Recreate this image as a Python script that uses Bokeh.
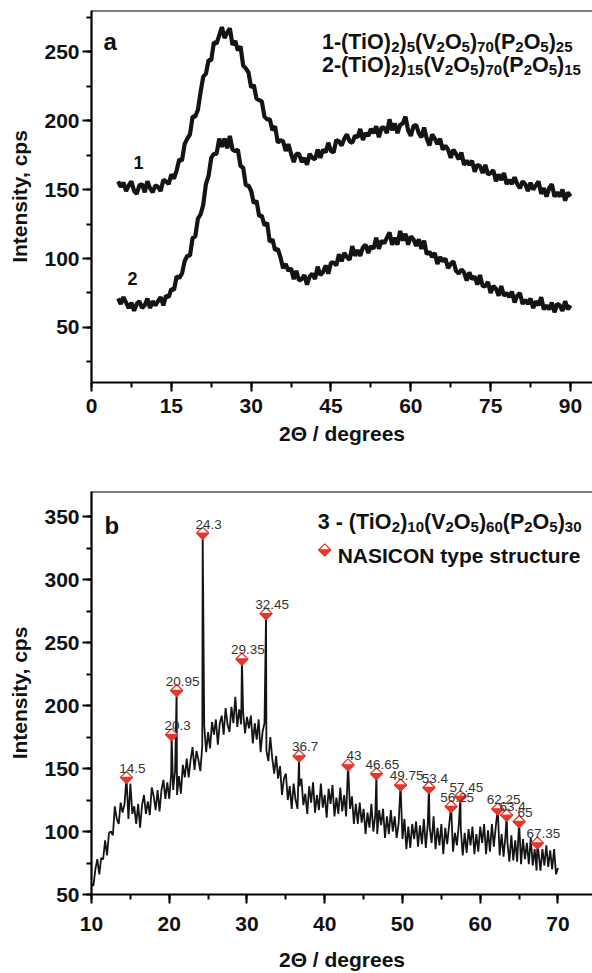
from bokeh.plotting import figure
from bokeh.models import Range1d, SingleIntervalTicker, Label, Span
from bokeh.layouts import column
from bokeh.embed import file_html
from bokeh.resources import INLINE
from bokeh.core.properties import value

FONT = "Liberation Sans"
RED = "#e5372b"
INK = "#141414"

# ---------------- panel a data (2theta from 5 to 90, step 0.5) ----------------
A_X0, A_STEP = 5.0, 0.5
curve1 = [156, 152, 155, 149, 153, 156, 149, 147, 153, 154, 148, 156, 151, 148, 153, 152, 149, 157, 156, 154,
          161, 158, 164, 172, 171, 183, 187, 190, 203, 203, 208, 221, 232, 234, 244, 244, 257, 256, 262, 268,
          260, 264, 267, 255, 258, 251, 254, 240, 238, 235, 224, 226, 216, 215, 214, 203, 201, 201, 193, 196,
          184, 186, 185, 178, 183, 176, 170, 176, 176, 170, 173, 168, 176, 173, 172, 179, 173, 179, 177, 184,
          178, 177, 186, 185, 182, 187, 190, 185, 184, 189, 188, 194, 186, 191, 189, 194, 191, 196, 188, 195,
          195, 191, 201, 193, 198, 191, 197, 198, 203, 193, 189, 196, 197, 191, 188, 195, 187, 182, 190, 187,
          183, 187, 179, 182, 179, 173, 179, 176, 172, 177, 168, 171, 168, 171, 163, 168, 167, 162, 168, 161,
          162, 164, 156, 161, 157, 162, 154, 157, 154, 159, 154, 151, 156, 154, 149, 155, 150, 153, 156, 147,
          151, 145, 151, 154, 145, 148, 145, 150, 142, 148, 145]
curve2 = [71, 67, 72, 68, 64, 68, 62, 67, 69, 64, 66, 71, 64, 69, 66, 69, 72, 66, 73, 72,
          78, 77, 87, 86, 89, 98, 102, 102, 115, 116, 129, 132, 139, 154, 160, 173, 176, 176, 187, 181,
          187, 180, 189, 179, 178, 179, 167, 166, 153, 153, 149, 140, 142, 131, 131, 124, 126, 112, 114, 106,
          107, 101, 93, 96, 91, 93, 85, 91, 84, 85, 88, 81, 87, 89, 85, 94, 88, 90, 95, 89,
          97, 97, 95, 103, 98, 104, 101, 99, 109, 102, 106, 102, 108, 110, 104, 109, 107, 115, 107, 113,
          111, 115, 119, 110, 115, 110, 120, 113, 118, 110, 116, 114, 109, 114, 107, 113, 103, 105, 101, 104,
          96, 101, 98, 100, 93, 96, 98, 91, 89, 92, 90, 84, 90, 85, 87, 81, 88, 80, 80, 83,
          75, 80, 78, 73, 80, 73, 75, 72, 76, 68, 73, 75, 67, 70, 67, 71, 64, 69, 66, 72,
          63, 66, 63, 68, 61, 67, 66, 62, 69, 63, 66]
a_x = [A_X0 + i * A_STEP for i in range(len(curve1))]

# formulas as (text, is_subscript) segments
a_formula1 = [("1-(TiO)", 0), ("2", 1), (")", 0), ("5", 1), ("(V", 0), ("2", 1), ("O", 0), ("5", 1),
              (")", 0), ("70", 1), ("(P", 0), ("2", 1), ("O", 0), ("5", 1), (")", 0), ("25", 1)]
a_formula2 = [("2-(TiO)", 0), ("2", 1), (")", 0), ("15", 1), ("(V", 0), ("2", 1), ("O", 0), ("5", 1),
              (")", 0), ("70", 1), ("(P", 0), ("2", 1), ("O", 0), ("5", 1), (")", 0), ("15", 1)]

# ---------------- panel b data (2theta from 10 to 70, step 0.25) ----------------
B_X0, B_STEP = 10.0, 0.25
curve3 = [58, 57, 70, 78, 66, 79, 78, 93, 81, 99, 100, 97, 120, 110, 106, 123, 115, 122, 128, 110,
          138, 114, 120, 106, 122, 103, 121, 129, 114, 124, 113, 135, 128, 117, 133, 116, 133, 141, 126, 139,
          126, 146, 133, 148, 129, 144, 130, 153, 143, 158, 143, 157, 167, 149, 164, 157, 148, 168, 184, 163,
          179, 166, 187, 177, 189, 169, 186, 192, 177, 198, 185, 179, 199, 186, 207, 183, 197, 185, 195, 178,
          191, 182, 192, 170, 186, 173, 189, 163, 179, 186, 164, 156, 175, 158, 146, 160, 142, 152, 129, 142,
          146, 125, 136, 118, 138, 125, 118, 136, 142, 121, 130, 114, 136, 123, 139, 115, 129, 117, 138, 119,
          129, 111, 134, 122, 137, 112, 127, 114, 135, 116, 129, 112, 140, 118, 128, 106, 122, 106, 123, 107,
          118, 98, 115, 103, 122, 100, 113, 98, 117, 105, 118, 95, 112, 98, 117, 100, 112, 95, 106, 120,
          94, 110, 86, 104, 87, 106, 94, 108, 88, 105, 90, 110, 87, 106, 103, 91, 112, 86, 103, 89,
          106, 82, 103, 90, 105, 110, 84, 99, 89, 106, 102, 81, 99, 83, 102, 89, 104, 82, 98, 84,
          104, 91, 106, 82, 101, 84, 106, 88, 104, 110, 81, 98, 80, 97, 91, 76, 97, 77, 93, 76,
          95, 74, 94, 78, 91, 74, 95, 73, 86, 69, 83, 69, 86, 73, 89, 72, 85, 70, 86, 66,
          71]
b_x = [round(B_X0 + i * B_STEP, 2) for i in range(len(curve3))]

peak_x = [14.5, 20.3, 20.95, 24.3, 29.35, 32.45, 36.7, 43, 46.65, 49.75, 53.4, 56.25, 57.45, 62.25, 63.4, 65, 67.35]
peak_y = [143, 177, 212, 337, 237, 273, 160, 153, 146, 137, 135, 120, 128, 118, 113, 108, 91]
peak_lbl = ["14.5", "20.3", "20.95", "24.3", "29.35", "32.45", "36.7", "43", "46.65", "49.75",
            "53.4", "56.25", "57.45", "62.25", "63.4", "65", "67.35"]
b_formula = [("3 - (TiO", 0), ("2", 1), (")", 0), ("10", 1), ("(V", 0), ("2", 1), ("O", 0), ("5", 1),
             (")", 0), ("60", 1), ("(P", 0), ("2", 1), ("O", 0), ("5", 1), (")", 0), ("30", 1)]
b_legend = "NASICON type structure"

# ---------------- layout geometry (page has no margin: figure starts at 0,0) ----------------
W = 592
LEFT = 91
FW = W - LEFT
HA, A_TOP, A_FH = 470, 10, 372
HB, B_TOP, B_FH = 503, 21, 408

A_XR = (0, 94.14)
A_YR = (10, 280)
B_XR = (10, 74.44)
B_YR = (50, 370)

# advance widths of Liberation Sans Bold (em units) for the characters used in formulas
ADV = {"0": .556, "1": .556, "2": .556, "3": .556, "5": .556, "6": .556, "7": .556,
       "-": .333, "(": .333, ")": .333, "T": .611, "i": .278, "O": .778, "V": .667, "P": .667, " ": .278}


def style(p, xint, yint, x_std, x_lbl_std):
    p.outline_line_color = None
    p.xgrid.grid_line_color = None
    p.ygrid.grid_line_color = None
    p.xaxis.ticker = SingleIntervalTicker(interval=xint, num_minor_ticks=2)
    p.yaxis.ticker = SingleIntervalTicker(interval=yint, num_minor_ticks=2)
    for ax in (p.xaxis[0], p.yaxis[0]):
        ax.axis_line_width = 2.2
        ax.axis_line_color = "black"
        ax.major_tick_line_width = 2
        ax.minor_tick_line_width = 2
        ax.major_tick_line_color = "black"
        ax.minor_tick_line_color = "black"
        ax.major_tick_in = 0
        ax.minor_tick_in = 0
        ax.major_tick_out = 9
        ax.minor_tick_out = 5
        ax.major_label_text_font = FONT
        ax.major_label_text_font_style = "bold"
        ax.major_label_text_font_size = "21px"
        ax.major_label_text_color = "#111111"
        ax.axis_label_text_font = FONT
        ax.axis_label_text_font_style = "bold"
        ax.axis_label_text_font_size = "21px"
        ax.axis_label_text_color = "#111111"
    p.xaxis.major_label_standoff = x_std
    p.xaxis.axis_label_standoff = x_lbl_std
    p.yaxis.major_label_standoff = 3
    p.yaxis.axis_label_standoff = 10
    p.xaxis.axis_label = "2\u0398 / degrees"
    p.yaxis.axis_label = "Intensity, cps"


def diamonds(p, xs, ys, xr, yr, fh, r=6):
    sx = FW / (xr[1] - xr[0])
    sy = fh / (yr[1] - yr[0])
    dx, dy = r / sx, r / sy
    fx = [[x - dx, x, x + dx, x] for x in xs]
    fy = [[y, y + dy, y, y - dy] for y in ys]
    lx = [[x - dx, x + dx, x] for x in xs]
    ly = [[y, y, y - dy] for y in ys]
    p.patches(fx, fy, fill_color="white", line_color=RED, line_width=1.3)
    p.patches(lx, ly, fill_color=RED, line_color=RED, line_width=1.3)


def lab(p, x, y, t, size, bold=True):
    p.add_layout(Label(x=x, y=y, text=t, text_font=FONT, text_font_size=size,
                       text_font_style="bold" if bold else "normal", text_color="#111111",
                       text_align="left", text_baseline="alphabetic"))


def formula(p, x0, y0, segs, xr, yr, fh, size, sub, drop=5):
    sx = FW / (xr[1] - xr[0])
    sy = fh / (yr[1] - yr[0])
    cur = 0.0
    for txt, is_sub in segs:
        fs = sub if is_sub else size
        yy = y0 - drop / sy if is_sub else y0
        lab(p, x0 + cur / sx, yy, txt, "%gpx" % fs)
        cur += sum(ADV[c] for c in txt) * fs


# ---------------- panel a ----------------
pa = figure(width=W, height=HA, output_backend="svg", toolbar_location=None,
            x_range=Range1d(*A_XR), y_range=Range1d(*A_YR),
            min_border_left=LEFT, min_border_right=0, min_border_top=A_TOP,
            min_border_bottom=HA - A_TOP - A_FH)
style(pa, 15, 50, 7, 6)
pa.add_layout(Span(location=A_YR[1], dimension="width", line_color="black", line_width=2.2))
pa.line(a_x, curve1, line_color=INK, line_width=4.2)
pa.line(a_x, curve2, line_color=INK, line_width=4.2)

lab(pa, 2.25, 257.3, "a", "24px")
formula(pa, 43.3, 257.3, a_formula1, A_XR, A_YR, A_FH, 21.5, 15)
formula(pa, 43.3, 240.6, a_formula2, A_XR, A_YR, A_FH, 21.5, 15)
lab(pa, 7.9, 169.4, "1", "18px")
lab(pa, 6.75, 85.3, "2", "18px")

# ---------------- panel b ----------------
pb = figure(width=W, height=HB, output_backend="svg", toolbar_location=None,
            x_range=Range1d(*B_XR), y_range=Range1d(*B_YR),
            min_border_left=LEFT, min_border_right=0, min_border_top=B_TOP,
            min_border_bottom=HB - B_TOP - B_FH)
style(pb, 10, 50, 13, 14)
pb.add_layout(Span(location=B_YR[1], dimension="width", line_color="black", line_width=2.2))

pts = [(x, y) for x, y in zip(b_x, curve3) if not any(abs(x - q) < 1e-6 for q in peak_x)]
pts += list(zip(peak_x, peak_y))
pts.sort()
pb.line([q[0] for q in pts], [q[1] for q in pts], line_color=INK, line_width=1.8)

diamonds(pb, peak_x, peak_y, B_XR, B_YR, B_FH)
pb.text(x=peak_x, y=peak_y, text=peak_lbl, x_offset=6, y_offset=-9,
        text_align="center", text_baseline="alphabetic", text_font=value(FONT),
        text_font_size="13.5px", text_color="#333333")

lab(pb, 11.67, 343.3, "b", "24px")
formula(pb, 39.1, 345.7, b_formula, B_XR, B_YR, B_FH, 21.5, 15)
lab(pb, 41.66, 319.0, b_legend, "21px")
diamonds(pb, [39.99], [323.7], B_XR, B_YR, B_FH)

layout = column(pa, pb, spacing=0)
open("out.html", "w").write(file_html(layout, INLINE))
